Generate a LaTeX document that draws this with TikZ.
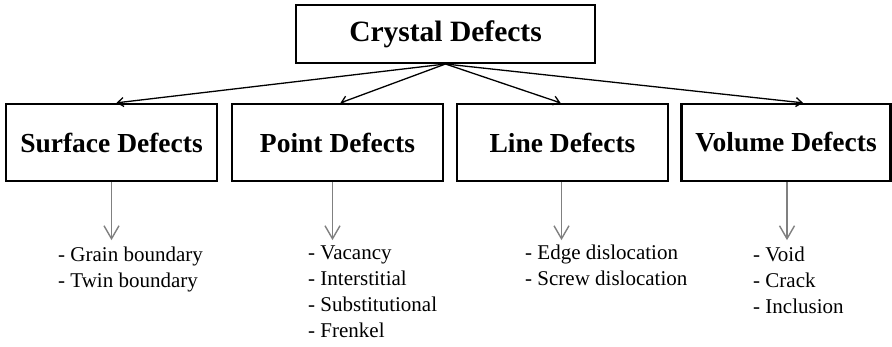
\documentclass[tikz,border=0pt]{standalone}
\usepackage{fontspec}
\setmainfont{Liberation Serif}
\usetikzlibrary{arrows.meta,calc}
\begin{document}
\begin{tikzpicture}[x=1pt,y=-1pt,
  topbox/.style={draw, line width=2pt, minimum width=299pt, minimum height=58pt, inner sep=0pt, font=\fontsize{29.5}{32}\selectfont\bfseries},
  box/.style={draw, line width=2.3pt, minimum width=211pt, minimum height=77pt, inner sep=0pt, font=\fontsize{27.5}{30}\selectfont\bfseries},
  list/.style={anchor=north west, inner sep=0pt, align=left, font=\fontsize{21}{26}\selectfont},
  mainarrow/.style={line width=1.3pt, -{Straight Barb[length=6pt,width=9pt]}},
  subarrow/.style={draw=gray, line width=1.4pt, -{Straight Barb[length=13pt,width=15pt]}}]
\fill[white] (0,0) rectangle (892,347);
\useasboundingbox (0,0) rectangle (892,347);

\node[topbox] (top) at (445.5,34) {Crystal Defects};
\node[box] (surf) at (111.5,142.5) {Surface Defects};
\node[box] (point) at (337.5,142.5) {Point Defects};
\node[box] (line) at (562.5,142.5) {Line Defects};
\node[box, minimum width=209pt] (vol) at (786,142.5) {Volume Defects};

\draw[mainarrow] (top.south) -- ($(surf.north)+(5,0)$);
\draw[mainarrow] (top.south) -- ($(point.north)+(3,0)$);
\draw[mainarrow] (top.south) -- ($(line.north)+(-2,0)$);
\draw[mainarrow] (top.south) -- ($(vol.north)+(17,0)$);

\draw[subarrow] (surf.south) -- ++(0,58);
\draw[subarrow] ($(point.south)+(-5,0)$) -- ++(0,58);
\draw[subarrow] ($(line.south)+(-1,0)$) -- ++(0,58);
\draw[subarrow] ($(vol.south)+(1,0)$) -- ++(0,58);

\node[list] (surflist) at (58,247) {- Grain boundary\\- Twin boundary};
\node[list] (pointlist) at (308,246) {- Vacancy\\- Interstitial\\- Substitutional\\- Frenkel};
\node[list] (linelist) at (525,245) {- Edge dislocation\\- Screw dislocation};
\node[list] (vollist) at (753,247) {- Void\\- Crack\\- Inclusion};
\end{tikzpicture}
\end{document}
